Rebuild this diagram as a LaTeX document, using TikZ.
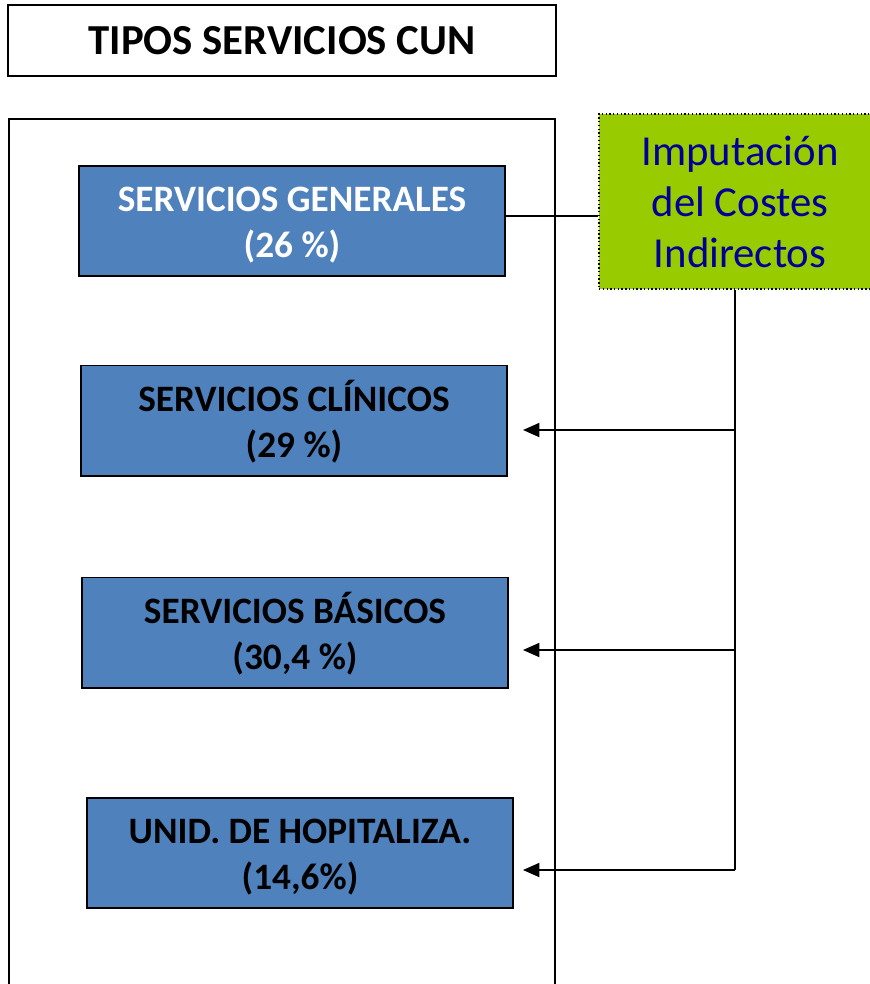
\documentclass[tikz,border=0pt]{standalone}
\usepackage{fontspec}
\setmainfont{Carlito}
\usetikzlibrary{arrows.meta}
\definecolor{boxblue}{HTML}{4F81BD}
\definecolor{costgreen}{HTML}{99CC00}
\definecolor{costtext}{HTML}{000099}
\begin{document}
\begin{tikzpicture}
[x=0.03cm,y=-0.03cm,
  titledecorate/.style={draw,line width=1.3pt,minimum width=16.44cm,minimum height=2.13cm,
    font=\bfseries\fontsize{36.5}{40}\selectfont},%
  servdecorate/.style={draw,fill=boxblue,line width=1.7pt,minimum width=12.78cm,
    minimum height=3.3cm,align=center,font=\bfseries\fontsize{31.8}{39.5}\selectfont,
    text height=73pt,text depth=10pt},%
  costdecorate/.style={draw,dotted,fill=costgreen,line width=1.2pt,minimum width=8.46cm,
    minimum height=5.25cm,align=center,text=costtext,font=\fontsize{36.5}{43.5}\selectfont},%
  linedecorate/.style={-,line width=1.5pt},%
  arrowdecorate/.style={-{Triangle[length=14pt,width=12pt]},line width=1.5pt}]
\useasboundingbox (0,0) rectangle (869,984);
%% frames
\node (title) at (282,40.5) [titledecorate] {TIPOS SERVICIOS CUN};
\draw[linedecorate] (9,1000) -- (9,119) -- (555,119) -- (555,1000);
%% service boxes
\node (gen) at (292,221) [servdecorate,text=white] {SERVICIOS GENERALES\\(26 \%)};
\node (clin) at (294,420.5) [servdecorate] {SERVICIOS CLÍNICOS\\(29 \%)};
\node (bas) at (295,632.5) [servdecorate] {SERVICIOS BÁSICOS\\(30,4 \%)};
\node (hosp) at (300,852.5) [servdecorate] {UNID. DE HOPITALIZA.\\(14,6\%)};
%% indirect costs
\node (cost) at (740,201.5) [costdecorate] {Imputación\\del Costes\\Indirectos};
%% connectors
\coordinate (trunk) at (735,870);
\coordinate (tclin) at (735,430);
\coordinate (tbas) at (735,650);
\coordinate (clinin) at (523,430);
\coordinate (basin) at (523,650);
\coordinate (hospin) at (523,870);
\draw[linedecorate] (gen.east |- 0,216) -- (cost.west |- 0,216);
\draw[linedecorate] (cost.south -| trunk) -- (trunk);
\foreach \startnode/\endnode in {tclin/clinin, tbas/basin, trunk/hospin} {
  \draw[arrowdecorate] (\startnode) -- (\endnode);
}
\end{tikzpicture}
\end{document}
